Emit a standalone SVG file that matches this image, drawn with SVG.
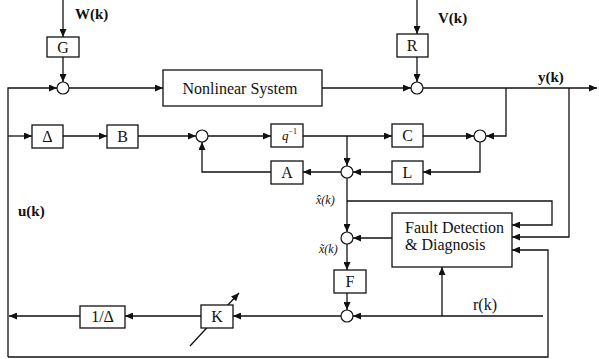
<svg xmlns="http://www.w3.org/2000/svg" width="599" height="359" viewBox="0 0 599 359">
<style>
.b{fill:#fff;stroke:#111;stroke-width:1.3}
.s{fill:#fff;stroke:#111;stroke-width:1.2}
.c{fill:none;stroke:#111;stroke-width:1.3}
.t{font-family:"Liberation Serif","Times New Roman",serif;font-size:16px;fill:#111;text-anchor:middle}
.lb{font-family:"Liberation Serif","Times New Roman",serif;font-size:15px;font-weight:bold;fill:#111}
.it{font-family:"Liberation Serif","DejaVu Serif",serif;font-size:12px;font-style:italic;fill:#111}
</style>
<defs>
<marker id="ar" markerUnits="userSpaceOnUse" markerWidth="8" markerHeight="7" refX="8" refY="3.5" orient="auto">
<path d="M0,0 L8,3.5 L0,7 z" fill="#111"/>
</marker>
</defs>
<rect width="599" height="359" fill="#fff"/>
<g id="connectors" class="c" marker-end="url(#ar)">
<path d="M63,0 V37"/>
<path d="M63,57 V82"/>
<path d="M8,357 V88 H57"/>
<path d="M69,88 H163"/>
<path d="M417,0 V34"/>
<path d="M417,57 V82"/>
<path d="M322,88 H411"/>
<path d="M423,88 H597"/>
<path d="M506,88 V136 H486"/>
<path d="M569,88 V237 H512"/>
<path d="M8,136 H32"/>
<path d="M63,136 H107"/>
<path d="M138,136 H196"/>
<path d="M208,136 H271"/>
<path d="M303,136 H392"/>
<path d="M423,136 H474"/>
<path d="M480,142 V172 H423"/>
<path d="M392,172 H353"/>
<path d="M341,172 H303"/>
<path d="M271,172 H202 V142"/>
<path d="M347,136 V166"/>
<path d="M347,178 V232"/>
<path d="M347,201 H552 V225 H512"/>
<path d="M392,238 H353"/>
<path d="M347,244 V270"/>
<path d="M347,293 V310"/>
<path d="M543,316 H353"/>
<path d="M442,316 V267"/>
<path d="M341,316 H233"/>
<path d="M201,316 H125"/>
<path d="M80,316 H9"/>
<path d="M8,357 H548 V250 H512"/>
<path d="M190,346 L239,293"/>
</g>
<g id="sum1"><circle class="s" cx="63" cy="88" r="6"/></g>
<g id="sum2"><circle class="s" cx="417" cy="88" r="6"/></g>
<g id="sum3"><circle class="s" cx="202" cy="136" r="6"/></g>
<g id="sum4"><circle class="s" cx="480" cy="136" r="6"/></g>
<g id="sum5"><circle class="s" cx="347" cy="172" r="6"/></g>
<g id="sum6"><circle class="s" cx="347" cy="238" r="6"/></g>
<g id="sum7"><circle class="s" cx="347" cy="316" r="6"/></g>
<g id="G"><rect class="b" x="47" y="37" width="32" height="20"/><text class="t" x="63" y="53">G</text></g>
<g id="R"><rect class="b" x="397" y="34" width="31" height="23"/><text class="t" x="412" y="51">R</text></g>
<g id="NS"><rect class="b" x="163" y="70" width="159" height="36"/><text class="t" x="240" y="94">Nonlinear System</text></g>
<g id="Delta"><rect class="b" x="32" y="125" width="31" height="23"/><text class="t" x="47.5" y="142">Δ</text></g>
<g id="B"><rect class="b" x="107" y="125" width="31" height="23"/><text class="t" x="122.5" y="142">B</text></g>
<g id="q"><rect class="b" x="271" y="124" width="32" height="23"/><text x="282" y="140" style="font-family:'Liberation Serif',serif;font-size:13px;font-style:italic;fill:#111">q<tspan dy="-6" style="font-size:8px;font-style:normal">−1</tspan></text></g>
<g id="C"><rect class="b" x="392" y="124" width="31" height="23"/><text class="t" x="407.5" y="141">C</text></g>
<g id="L"><rect class="b" x="392" y="161" width="31" height="23"/><text class="t" x="407.5" y="178">L</text></g>
<g id="A"><rect class="b" x="271" y="161" width="32" height="23"/><text class="t" x="287" y="178">A</text></g>
<g id="FDD"><rect class="b" x="392" y="213" width="120" height="54"/>
<text x="405" y="233" style="font-family:'Liberation Serif',serif;font-size:16px;fill:#111">Fault Detection</text>
<text x="405" y="250" style="font-family:'Liberation Serif',serif;font-size:16px;fill:#111">&amp; Diagnosis</text></g>
<g id="F"><rect class="b" x="334" y="270" width="32" height="23"/><text class="t" x="350" y="287">F</text></g>
<g id="K"><rect class="b" x="201" y="305" width="32" height="23"/><text class="t" x="217" y="322">K</text></g>
<g id="invDelta"><rect class="b" x="80" y="306" width="45" height="22"/><text class="t" x="102.5" y="322">1/Δ</text></g>
<g id="labels">
<text class="lb" x="75" y="19">W(k)</text>
<text class="lb" x="438" y="23">V(k)</text>
<text class="lb" x="538" y="82">y(k)</text>
<text class="lb" x="18" y="216">u(k)</text>
<text class="lb" x="473" y="310" style="font-weight:normal;font-size:16px">r(k)</text>
<text class="it" x="316" y="204">x̂(k)</text>
<text class="it" x="319" y="253">x̃(k)</text>
</g>
</svg>
